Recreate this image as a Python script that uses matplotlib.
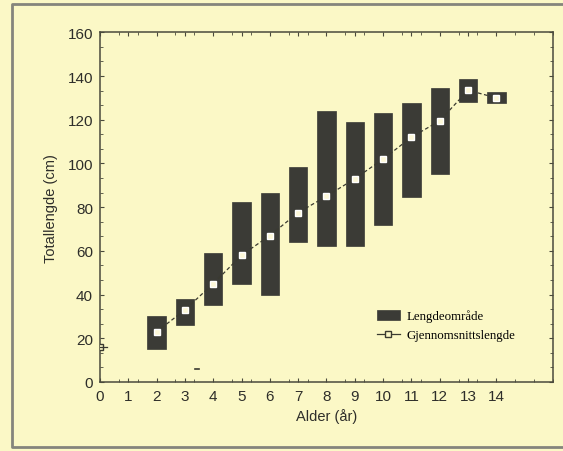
import matplotlib.pyplot as plt
import numpy as np
from matplotlib.lines import Line2D

# Alder (år) og lengdeområde (cm)
ages = [2, 3, 4, 5, 6, 7, 8, 9, 10, 11, 12, 13, 14]
len_min = [15, 26, 35, 45, 40, 64, 62, 62, 72, 84.5, 95, 128, 127.5]
len_max = [30, 38, 59, 82.5, 86.5, 98.5, 124, 119, 123, 127.5, 134.5, 138.5, 132.5]
len_mean = [23, 33, 45, 58, 67, 77.5, 85, 93, 102, 112, 119.5, 133.5, 130]

bg = '#fbf8c6'
bar_col = '#3b3b36'
edge_col = '#4a4a3c'

fig = plt.figure(figsize=(5.63, 4.52), dpi=100, facecolor=bg)
ax = fig.add_axes([0.1776, 0.1527, 0.8046, 0.7736])
ax.set_facecolor(bg)

# ytre ramme (venstre, topp, bunn)
x0, y0, y1 = 12 / 563, 1 - 448 / 452, 1 - 5 / 452
fig.lines.append(Line2D([1.0, x0, x0, 1.0], [y1, y1, y0, y0], transform=fig.transFigure,
                        color='#85857c', linewidth=2))

heights = np.array(len_max) - np.array(len_min)
bars = ax.bar(ages, heights, bottom=len_min, width=0.65, color=bar_col, edgecolor=bar_col,
              linewidth=0.5, zorder=2)
line, = ax.plot(ages, len_mean, linestyle=(0, (3, 2)), color='#3a3a30', linewidth=0.9,
                marker='s', markersize=4, markerfacecolor='#fdf8d8', markeredgecolor='white',
                markeredgewidth=1.0, zorder=3)

# små merker ved aksen
ax.plot([0], [16], marker='s', markersize=4, markerfacecolor=bg, markeredgecolor='#3a3a30',
        linestyle='none', zorder=3)
ax.plot([0, 0.25], [16, 16], color='#3a3a30', linewidth=0.9, zorder=3)
ax.plot([3.35, 3.5], [6, 6], color='#3a3a30', linewidth=1.2, zorder=3)

ax.set_xlim(0, 16)
ax.set_ylim(0, 160)
ax.set_xticks(range(0, 15))
ax.set_yticks(range(0, 161, 20))
ax.set_xticks(np.linspace(0, 16, 25), minor=True)
ax.set_yticks(np.linspace(0, 160, 25), minor=True)

font = 'Liberation Sans'
for lab in ax.get_xticklabels() + ax.get_yticklabels():
    lab.set_fontfamily(font)
ax.tick_params(axis='both', which='major', direction='in', length=3, width=0.8,
               labelsize=11, colors=edge_col, labelcolor='#2e2e2a', top=True, right=True, pad=5)
ax.tick_params(axis='both', which='minor', direction='in', length=2, width=0.6,
               colors=edge_col, top=True, right=True)
for s in ax.spines.values():
    s.set_color(edge_col)
    s.set_linewidth(1.1)

ax.set_xlabel('Alder (år)', fontsize=10.5, family=font, color='#2e2e2a', labelpad=4)
ax.set_ylabel('Totallengde (cm)', fontsize=10.5, family=font, color='#2e2e2a', labelpad=7)

leg_line, = ax.plot([], [], linestyle='-', color='#3a3a30', linewidth=0.9, marker='s',
                    markersize=4.5, markerfacecolor=bg, markeredgecolor='#3a3a30')
leg = ax.legend([bars, leg_line], ['Lengdeområde', 'Gjennomsnittslengde'],
                loc='upper left', bbox_to_anchor=(0.585, 0.24), frameon=False,
                prop={'family': 'Liberation Serif', 'size': 9.3}, handlelength=1.8,
                handleheight=0.8, handletextpad=0.5, labelspacing=0.5)

fig.savefig('out.png', dpi=100, facecolor=bg)
